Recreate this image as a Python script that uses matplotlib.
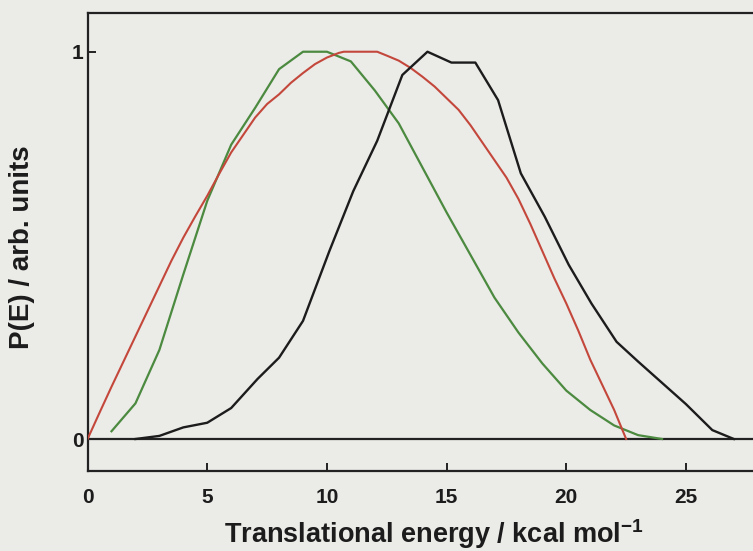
import matplotlib
matplotlib.use("Agg")
import matplotlib.pyplot as plt

plt.rcParams['font.family'] = ['Liberation Sans', 'DejaVu Sans']
plt.rcParams['font.weight'] = 'bold'
plt.rcParams['mathtext.fontset'] = 'custom'
plt.rcParams['mathtext.rm'] = 'Liberation Sans:bold'
plt.rcParams['mathtext.bf'] = 'Liberation Sans:bold'

# translational energy distributions (kcal/mol, normalised)
e_red = [0, 0.5, 1, 1.5, 2, 2.5, 3, 3.5, 4, 4.5, 5, 5.5, 6, 6.5, 7, 7.5, 8,
         8.5, 9, 9.5, 10, 10.5, 10.7, 11.5, 12.1, 12.5, 13, 13.5, 14, 14.5,
         15, 15.5, 16, 16.5, 17, 17.5, 18, 18.5, 19, 19.5, 20, 20.5, 21,
         21.5, 22, 22.5]
p_red = [0, 0.068, 0.135, 0.20, 0.265, 0.33, 0.395, 0.46, 0.52, 0.575,
         0.628, 0.685, 0.74, 0.785, 0.83, 0.865, 0.89, 0.92, 0.945, 0.968,
         0.985, 0.997, 1.0, 1.0, 1.0, 0.99, 0.977, 0.958, 0.935, 0.91, 0.88,
         0.85, 0.81, 0.765, 0.72, 0.675, 0.62, 0.555, 0.485, 0.415, 0.35,
         0.28, 0.205, 0.14, 0.075, 0.0]

e_green = [1, 2, 3, 4, 5, 6, 7, 8, 9, 10, 11, 12, 13, 14, 15, 16, 17, 18,
           19, 20, 21, 22, 23, 24]
p_green = [0.02, 0.092, 0.23, 0.425, 0.615, 0.76, 0.855, 0.955, 1.0, 1.0,
           0.975, 0.90, 0.815, 0.70, 0.585, 0.475, 0.365, 0.275, 0.195,
           0.125, 0.075, 0.035, 0.01, 0.0]

e_black = [2.0, 3.0, 4.0, 5.0, 6.0, 7.1, 8.0, 9.0, 10.1, 11.1, 12.1, 13.15,
           14.2, 15.2, 16.2, 17.15, 18.1, 19.1, 20.1, 21.05, 22.1, 23.0,
           24.0, 25.0, 26.1, 27.0]
p_black = [0, 0.008, 0.03, 0.042, 0.08, 0.155, 0.21, 0.305, 0.485, 0.64,
           0.77, 0.94, 1.0, 0.972, 0.972, 0.875, 0.686, 0.574, 0.45, 0.35,
           0.251, 0.20, 0.145, 0.09, 0.023, 0.0]

x_ticks = [0, 5, 10, 15, 20, 25]
y_ticks = [0, 1]

bg = '#ebebe8'
fig = plt.figure(figsize=(7.53, 5.51), dpi=100, facecolor=bg)
ax = fig.add_axes([0.1163, 0.1452, 0.8837, 0.8312], facecolor=bg)

ax.axhline(0, color='#222222', lw=1.6, zorder=1)
ax.plot(e_red, p_red, color='#c4473b', lw=1.5, zorder=3)
ax.plot(e_green, p_green, color='#4b8a3f', lw=1.6, zorder=2)
ax.plot(e_black, p_black, color='#1c1c1c', lw=1.7, zorder=4)

ax.set_xlim(0, 27.8)
ax.set_ylim(-0.0826, 1.100)
ax.set_xticks(x_ticks)
ax.set_yticks(y_ticks)
ax.tick_params(axis='both', direction='in', length=6, width=1.4,
               color='#222222', labelsize=15, labelcolor='#1c1c1c')
ax.tick_params(axis='x', pad=12)
ax.tick_params(axis='y', pad=3)

for side in ['left', 'bottom', 'top']:
    ax.spines[side].set_linewidth(1.6)
    ax.spines[side].set_color('#222222')
ax.spines['right'].set_visible(False)

ax.set_xlabel(r'Translational energy / kcal mol$^{-1}$', fontsize=19.5,
              fontweight='bold', color='#1c1c1c', va='baseline')
ax.xaxis.set_label_coords(0.5206, -0.157)
ax.set_ylabel('P(E) / arb. units', fontsize=20, fontweight='bold',
              color='#1c1c1c', va='center')
ax.yaxis.set_label_coords(-0.0986, 0.489)

fig.savefig('out.png', dpi=100, facecolor=bg)
